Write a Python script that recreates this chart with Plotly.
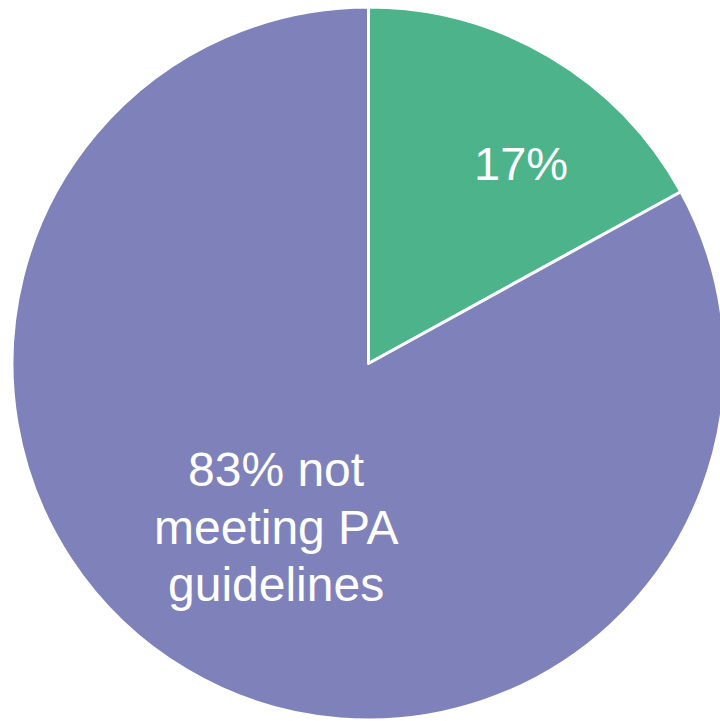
import plotly.graph_objects as go

categories = ["Meeting PA guidelines", "Not meeting PA guidelines"]
values = [17, 83]
green_label = ["17%"]
purple_label_lines = ["83% not", "meeting PA", "guidelines"]
colors = ["#4CB38A", "#7F82BA"]

W, H = 737, 721
cx, cy, r = 368.5, 363.5, 356.5

fig = go.Figure(go.Pie(
    labels=categories,
    values=values,
    sort=False,
    direction="clockwise",
    rotation=0,
    marker=dict(colors=colors, line=dict(color="white", width=3)),
    textinfo="none",
    hoverinfo="label+percent",
    showlegend=False,
    domain=dict(x=[(cx - r) / W, (cx + r) / W], y=[1 - (cy + r) / H, 1 - (cy - r) / H]),
))

font_family = "Liberation Sans, Arial, sans-serif"
fig.add_annotation(
    text=green_label[0], xref="paper", yref="paper",
    x=521 / W, y=1 - 163 / H, xanchor="center", yanchor="middle",
    showarrow=False, font=dict(family=font_family, size=47, color="white"),
)
line_y = [469, 527, 584]
for txt, py in zip(purple_label_lines, line_y):
    fig.add_annotation(
        text=txt, xref="paper", yref="paper",
        x=276 / W, y=1 - py / H, xanchor="center", yanchor="middle",
        showarrow=False, font=dict(family=font_family, size=48, color="white"),
    )

fig.update_layout(
    width=W, height=H,
    margin=dict(l=0, r=0, t=0, b=0),
    paper_bgcolor="white", plot_bgcolor="white",
)

fig.write_html("out.html")
